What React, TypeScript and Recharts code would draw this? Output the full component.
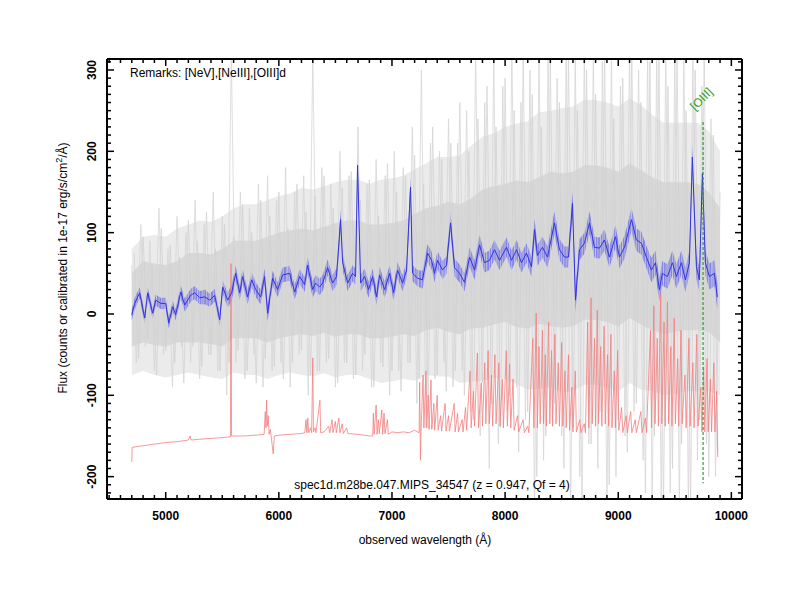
import React from "react";
import { ComposedChart, Line, Area, XAxis, YAxis, ReferenceLine } from "recharts";

// smoothed flux (blue) and its 1-sigma error
const blueWave = [4700, 4726, 4770, 4814, 4841, 4885, 4912, 4956, 5000, 5027, 5062, 5088, 5133, 5168, 5221, 5256, 5300, 5345, 5389, 5433, 5477, 5504, 5548, 5583, 5618, 5654, 5680, 5724, 5760, 5795, 5839, 5874, 5901, 5945, 5989, 6034, 6095, 6140, 6184, 6228, 6254, 6299, 6325, 6360, 6387, 6431, 6475, 6510, 6546, 6564, 6608, 6652, 6678, 6696, 6723, 6758, 6793, 6829, 6864, 6890, 6935, 6979, 7014, 7049, 7094, 7129, 7164, 7182, 7226, 7270, 7314, 7350, 7376, 7403, 7447, 7482, 7518, 7553, 7597, 7641, 7686, 7730, 7774, 7818, 7862, 7906, 7951, 8012, 8057, 8101, 8145, 8189, 8233, 8260, 8286, 8330, 8375, 8436, 8481, 8525, 8560, 8596, 8622, 8657, 8701, 8746, 8790, 8834, 8878, 8922, 8975, 9011, 9055, 9117, 9161, 9205, 9249, 9293, 9329, 9364, 9390, 9435, 9479, 9514, 9558, 9594, 9629, 9655, 9691, 9717, 9744, 9770, 9806, 9850, 9876];
const blueFlux = [-1, 13, 26, -5, 26, 1, 17, 13, 13, -11, 9, -1, 27, 11, 23, 26, 20, 21, 17, 23, -7, 33, 17, 26, 50, 26, 46, 21, 42, 30, 21, 46, 1, 44, 30, 48, 50, 27, 46, 36, 60, 30, 38, 33, 38, 57, 38, 46, 116, 63, 38, 50, 46, 183, 38, 46, 30, 46, 21, 48, 30, 50, 26, 54, 38, 54, 156, 50, 44, 42, 75, 66, 50, 66, 54, 60, 112, 57, 50, 39, 70, 54, 85, 63, 66, 79, 66, 82, 66, 79, 63, 75, 58, 104, 72, 82, 70, 112, 79, 70, 70, 136, 17, 79, 87, 112, 82, 81, 91, 70, 95, 70, 82, 116, 91, 87, 70, 54, 63, 30, 50, 46, 63, 46, 63, 42, 63, 193, 58, 42, 173, 63, 46, 50, 21];
const blueErr = [7, 7, 7, 7, 7, 7, 7, 7, 7, 7, 7, 7, 8, 8, 8, 8, 8, 9, 8, 8, 8, 8, 9, 10, 9, 9, 9, 9, 9, 9, 9, 10, 10, 9, 9, 9, 9, 9, 9, 9, 10, 10, 10, 10, 10, 10, 10, 10, 12, 10, 10, 10, 10, 14, 10, 10, 10, 10, 10, 10, 10, 10, 10, 10, 10, 10, 12, 10, 10, 11, 11, 11, 11, 11, 11, 11, 12, 11, 11, 11, 12, 12, 12, 12, 12, 12, 12, 12, 12, 12, 12, 12, 12, 13, 13, 13, 13, 14, 13, 13, 13, 15, 15, 13, 13, 14, 13, 13, 13, 13, 14, 14, 14, 14, 14, 14, 14, 15, 15, 15, 15, 15, 15, 15, 15, 15, 15, 16, 15, 15, 16, 15, 16, 16, 16];

// raw exposures (grey): envelope every 100 A, plus two noisy traces every 40 A
const envWave = [4700, 4800, 4900, 5000, 5100, 5200, 5300, 5400, 5500, 5600, 5700, 5800, 5900, 6000, 6100, 6200, 6300, 6400, 6500, 6600, 6700, 6800, 6900, 7000, 7100, 7200, 7300, 7400, 7500, 7600, 7700, 7800, 7900, 8000, 8100, 8200, 8300, 8400, 8500, 8600, 8700, 8800, 8900, 9000, 9100, 9200, 9300, 9400, 9500, 9600, 9700, 9800, 9900];
const coreLo = [-40, -35, -38, -40, -35, -35, -35, -37, -40, -30, -30, -30, -35, -30, -27, -25, -27, -23, -28, -25, -25, -30, -30, -28, -25, -27, -20, -17, -22, -25, -18, -17, -13, -10, -16, -18, -12, -15, -17, -15, -7, -7, -10, -15, -5, -13, -20, -25, -22, -20, -20, -22, -35];
const coreHi = [50, 65, 62, 60, 65, 75, 75, 73, 80, 90, 90, 90, 95, 100, 103, 105, 103, 107, 112, 115, 115, 110, 110, 112, 115, 123, 130, 133, 138, 135, 142, 153, 157, 160, 164, 162, 168, 175, 173, 175, 183, 183, 180, 175, 185, 177, 168, 162, 162, 162, 160, 150, 130];
const outerLo = [-75, -70, -75, -78, -75, -72, -75, -78, -80, -72, -75, -75, -80, -75, -72, -75, -77, -73, -78, -75, -75, -80, -85, -83, -80, -82, -75, -77, -77, -85, -83, -82, -78, -80, -86, -93, -92, -90, -97, -95, -87, -87, -90, -95, -85, -93, -95, -100, -98, -95, -95, -95, -100];
const outerHi = [80, 95, 97, 95, 105, 110, 115, 113, 120, 130, 135, 135, 140, 145, 148, 155, 153, 157, 162, 165, 165, 160, 165, 167, 170, 178, 185, 193, 193, 195, 207, 218, 222, 230, 234, 237, 248, 250, 253, 255, 263, 263, 260, 255, 265, 257, 245, 235, 235, 235, 235, 225, 200];
const rawFlux = [60, -60, 110, -40, 90, -70, 130, -50, 80, -90, 120, -40, 100, -60, 140, -80, 110, -50, 150, -70, 120, -100, 320, -60, 150, -80, 130, -50, 160, -90, 170, -70, 140, -60, 180, -90, 150, -50, 170, -100, 320, -70, 180, -60, 160, -90, 200, -60, 170, -80, 230, -70, 160, -90, 190, -60, 170, -100, 200, -70, 180, -60, 230, -110, 300, -140, 210, -80, 200, -60, 240, -90, 210, -70, 250, -120, 320, -150, 260, -190, 320, -160, 280, -120, 320, -90, 260, -130, 300, -240, 320, -180, 320, -120, 290, -150, 320, -240, 320, -200, 320, -160, 320, -190, 310, -240, 320, -200, 280, -150, 320, -120, 300, -180, 320, -240, 320, -240, 320, -220, 320, -240, 320, -240, 320, -180, 280, -160, 240, -200, 150];
const rawFlux2 = [75, -55, 95, -30, 60, -75, 105, -45, 85, -60, 70, -85, 115, -40, 90, -65, 125, -50, 80, -70, 110, -60, 95, -45, 135, -70, 100, -85, 140, -55, 120, -65, 150, -80, 105, -60, 160, -45, 125, -75, 145, -70, 170, -55, 130, -85, 155, -60, 175, -75, 140, -50, 165, -90, 120, -65, 185, -70, 150, -95, 170, -60, 195, -80, 160, -110, 230, -75, 190, -95, 210, -70, 260, -100, 200, -130, 240, -85, 280, -110, 230, -140, 290, -100, 250, -170, 320, -120, 270, -200, 230, -150, 310, -110, 260, -190, 320, -140, 250, -230, 300, -160, 270, -120, 320, -210, 240, -130, 290, -170, 320, -110, 260, -220, 310, -150, 320, -240, 280, -190, 320, -160, 250, -240, 300, -130, 320, -200, 220, -170];
const rawStart = 4700;
const rawStart2 = 4720;
const rawStep = 40;

// scaled sky spectrum (red), [wavelength, flux]
const sky: [number, number][] = [
  [4700, -182], [4703, -164], [4800, -162], [4900, -160], [5000, -158], [5100, -157], [5200, -155], [5215, -150], [5225, -155], [5300, -154], [5400, -153], [5500, -152], [5572, -151], [5577, 62], [5582, -150], [5700, -150], [5800, -149], [5870, -148], [5880, -120], [5886, -140], [5892, -106], [5898, -138], [5906, -125], [5914, -148], [5925, -142], [5940, -160], [5950, -172], [5960, -150], [6000, -149], [6100, -148], [6200, -147], [6230, -146], [6240, -130], [6248, -146], [6256, -128], [6264, -146], [6280, -140], [6290, -146], [6300, -54], [6306, -145], [6320, -140], [6328, -146], [6363, -106], [6370, -146], [6400, -145], [6440, -138], [6450, -146], [6470, -130], [6478, -146], [6500, -132], [6508, -146], [6530, -128], [6540, -146], [6560, -135], [6570, -147], [6600, -140], [6610, -147], [6700, -148], [6800, -150], [6830, -150], [6835, -122], [6842, -148], [6860, -112], [6868, -148], [6880, -130], [6888, -147], [6910, -118], [6918, -148], [6930, -122], [6938, -147], [6960, -130], [6968, -148], [7000, -145], [7050, -146], [7100, -145], [7150, -146], [7200, -143], [7240, -146], [7245, -84], [7252, -180], [7258, -140], [7275, -75], [7282, -140], [7300, -70], [7308, -140], [7320, -100], [7328, -142], [7345, -81], [7352, -142], [7370, -110], [7378, -143], [7400, -100], [7408, -143], [7430, -125], [7438, -144], [7470, -110], [7478, -144], [7500, -125], [7508, -144], [7550, -110], [7558, -145], [7580, -122], [7588, -145], [7620, -130], [7628, -145], [7650, -115], [7660, -143], [7690, -70], [7700, -140], [7720, -95], [7730, -138], [7755, -48], [7765, -140], [7790, -85], [7800, -138], [7820, -60], [7830, -135], [7850, -45], [7860, -135], [7880, -75], [7890, -138], [7910, -50], [7920, -135], [7945, -60], [7955, -138], [7975, -80], [7985, -140], [8010, -45], [8020, -138], [8040, -62], [8050, -140], [8070, -80], [8080, -143], [8110, -125], [8120, -145], [8160, -130], [8170, -146], [8200, -138], [8210, -146], [8245, -30], [8255, -140], [8275, 1], [8285, -140], [8300, -40], [8310, -135], [8330, -20], [8340, -135], [8355, -50], [8365, -138], [8385, -10], [8395, -135], [8410, -45], [8420, -138], [8440, -25], [8450, -135], [8470, -60], [8480, -138], [8500, -35], [8510, -138], [8530, -70], [8540, -140], [8560, -50], [8570, -143], [8590, -90], [8600, -145], [8620, -70], [8630, -145], [8660, -130], [8670, -146], [8700, -135], [8710, -146], [8730, -10], [8740, -140], [8760, 20], [8770, -135], [8790, -30], [8800, -138], [8815, 5], [8825, -135], [8845, -40], [8855, -138], [8875, -15], [8885, -135], [8905, -50], [8915, -138], [8935, -25], [8945, -140], [8965, -70], [8975, -140], [8995, -45], [9005, -143], [9030, -115], [9040, -146], [9070, -125], [9080, -146], [9110, -120], [9120, -146], [9150, -130], [9160, -146], [9200, -120], [9210, -146], [9240, -128], [9250, -146], [9285, -20], [9295, -140], [9315, 10], [9325, -135], [9345, -30], [9355, -138], [9375, 25], [9385, -135], [9405, -10], [9415, -138], [9435, 15], [9445, -135], [9465, -40], [9475, -138], [9495, -5], [9505, -135], [9525, -55], [9535, -138], [9555, -20], [9565, -135], [9590, -75], [9600, -140], [9625, -30], [9635, -138], [9660, -60], [9670, -140], [9695, -25], [9705, -138], [9730, -90], [9740, -145], [9755, -65], [9765, -145], [9785, -55], [9795, -145], [9815, -80], [9825, -145], [9845, -60], [9855, -145], [9870, -95], [9876, -150], [9880, -176],
];

const oiiiWave = 9750;
const oiiiTop = 236;
const oiiiBottom = -208;

const xDomain = [4481, 10094];
const yDomain = [-227.5, 313.5];
const xTicks: number[] = [];
for (let v = 4500; v <= 10000; v += 100) xTicks.push(v);
const yTicks: number[] = [];
for (let v = -220; v <= 310; v += 10) yTicks.push(v);

const blueData = blueWave.map((x, i) => ({ x, f: blueFlux[i], band: [blueFlux[i] - blueErr[i], blueFlux[i] + blueErr[i]] }));
const envData = envWave.map((x, i) => ({ x, core: [coreLo[i], coreHi[i]], outer: [outerLo[i], outerHi[i]] }));
const rawData = rawFlux.map((f, i) => ({ x: rawStart + rawStep * i, f }));
const rawData2 = rawFlux2.map((f, i) => ({ x: rawStart2 + rawStep * i, f }));
const skyData = sky.map(([x, f]) => ({ x, f }));

const FONT = "'Liberation Sans', Arial, Helvetica, sans-serif";

function BottomTick(p: any) {
  const major = p.payload.value % 1000 === 0;
  return (
    <g>
      <line x1={p.x} x2={p.x} y1={p.y} y2={p.y - (major ? 7 : 4)} stroke="#000" strokeWidth={1.5} />
      {major && (
        <text x={p.x} y={p.y + 21} textAnchor="middle" fontSize={12} fontWeight="bold" fontFamily={FONT} fill="#000">
          {p.payload.value}
        </text>
      )}
    </g>
  );
}

function TopTick(p: any) {
  const major = p.payload.value % 1000 === 0;
  return <line x1={p.x} x2={p.x} y1={p.y} y2={p.y + (major ? 7 : 4)} stroke="#000" strokeWidth={1.5} />;
}

function LeftTick(p: any) {
  const major = p.payload.value % 100 === 0;
  return (
    <g>
      <line x1={p.x} x2={p.x + (major ? 7 : 4)} y1={p.y} y2={p.y} stroke="#000" strokeWidth={1.5} />
      {major && (
        <text
          x={p.x - 11}
          y={p.y}
          transform={`rotate(-90, ${p.x - 11}, ${p.y})`}
          textAnchor="middle"
          fontSize={12}
          fontWeight="bold"
          fontFamily={FONT}
          fill="#000"
        >
          {p.payload.value}
        </text>
      )}
    </g>
  );
}

function RightTick(p: any) {
  const major = p.payload.value % 100 === 0;
  return <line x1={p.x} x2={p.x - (major ? 7 : 4)} y1={p.y} y2={p.y} stroke="#000" strokeWidth={1.5} />;
}

function OiiiLabel(p: any) {
  const vb = p.viewBox;
  const x = vb.x - 8;
  const y = vb.y - 11;
  return (
    <text x={x} y={y} transform={`rotate(-45, ${x}, ${y})`} fontSize={12} fontFamily={FONT} fill="#2ca02c">
      [OIII]
    </text>
  );
}

const axisLine = { stroke: "#000", strokeWidth: 2 };

export default function App() {
  return (
    <div style={{ position: "absolute", left: 0, top: 0, width: 800, height: 600, background: "#fff" }}>
      <ComposedChart width={800} height={600} margin={{ top: 58, right: 57, bottom: 100, left: 106 }}>
        <XAxis xAxisId="b" type="number" dataKey="x" domain={xDomain} allowDataOverflow ticks={xTicks} interval={0}
          tickSize={0} tickMargin={0} height={1} tickLine={false} axisLine={axisLine} tick={(p: any) => <BottomTick {...p} />} />
        <XAxis xAxisId="t" orientation="top" type="number" dataKey="x" domain={xDomain} allowDataOverflow ticks={xTicks} interval={0}
          tickSize={0} tickMargin={0} height={1} tickLine={false} axisLine={axisLine} tick={(p: any) => <TopTick {...p} />} />
        <YAxis yAxisId="l" type="number" domain={yDomain} allowDataOverflow ticks={yTicks} interval={0}
          tickSize={0} tickMargin={0} width={1} tickLine={false} axisLine={axisLine} tick={(p: any) => <LeftTick {...p} />} />
        <YAxis yAxisId="r" orientation="right" type="number" domain={yDomain} allowDataOverflow ticks={yTicks} interval={0}
          tickSize={0} tickMargin={0} width={1} tickLine={false} axisLine={axisLine} tick={(p: any) => <RightTick {...p} />} />

        <Area xAxisId="b" yAxisId="l" data={envData} dataKey="outer" type="linear" stroke="none" fill="#ebebeb" fillOpacity={1} isAnimationActive={false} dot={false} activeDot={false} />
        <Area xAxisId="b" yAxisId="l" data={envData} dataKey="core" type="linear" stroke="none" fill="#d8d8d8" fillOpacity={1} isAnimationActive={false} dot={false} activeDot={false} />
        <Line xAxisId="b" yAxisId="l" data={rawData2} dataKey="f" type="linear" stroke="#d0d0d0" strokeWidth={0.7} dot={false} activeDot={false} isAnimationActive={false} />
        <Line xAxisId="b" yAxisId="l" data={rawData} dataKey="f" type="linear" stroke="#d6d6d6" strokeWidth={0.8} dot={false} activeDot={false} isAnimationActive={false} />
        <Line xAxisId="b" yAxisId="l" data={skyData} dataKey="f" type="linear" stroke="#f47f7f" strokeWidth={0.8} dot={false} activeDot={false} isAnimationActive={false} />
        <Area xAxisId="b" yAxisId="l" data={blueData} dataKey="band" type="linear" stroke="none" fill="#7c7ce8" fillOpacity={0.9} isAnimationActive={false} dot={false} activeDot={false} />
        <Line xAxisId="b" yAxisId="l" data={blueData} dataKey="f" type="linear" stroke="#3434dc" strokeWidth={1} dot={false} activeDot={false} isAnimationActive={false} />
        <ReferenceLine xAxisId="b" yAxisId="l" segment={[{ x: oiiiWave, y: oiiiTop }, { x: oiiiWave, y: oiiiBottom }]}
          stroke="#2ca02c" strokeWidth={1.2} strokeDasharray="3 2" ifOverflow="visible" label={(p: any) => <OiiiLabel {...p} />} />
      </ComposedChart>
      <svg width={800} height={600} style={{ position: "absolute", left: 0, top: 0, pointerEvents: "none" }}>
        <g fontFamily={FONT} fontSize={12} fill="#000">
          <text x={130} y={77}>Remarks: [NeV],[NeIII],[OIII]d</text>
          <text x={432} y={489} textAnchor="middle">spec1d.m28be.047.MIPS_34547 (z = 0.947, Qf = 4)</text>
          <text x={425} y={544} textAnchor="middle">observed wavelength (Å)</text>
          <text x={67} y={268} textAnchor="middle" transform="rotate(-90, 67, 268)">
            Flux (counts or calibrated in 1e-17 erg/s/cm<tspan dy={-5} fontSize={9}>2</tspan>
            <tspan dy={5}>/Å)</tspan>
          </text>
        </g>
      </svg>
    </div>
  );
}
